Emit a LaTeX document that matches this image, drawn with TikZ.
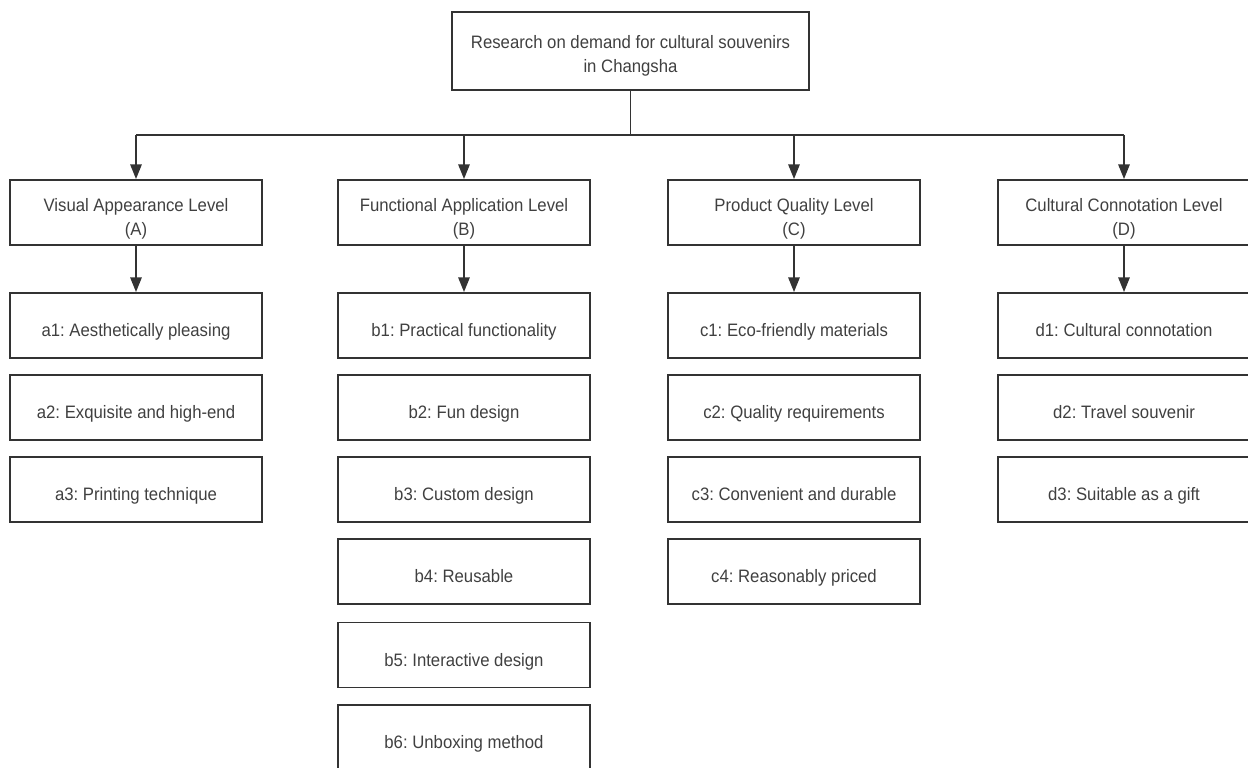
\documentclass[tikz,border=0pt]{standalone}
\usepackage{fontspec}
\setmainfont{Liberation Sans}[FakeStretch=0.93]
\frenchspacing
\usetikzlibrary{arrows.meta}
\definecolor{linegray}{HTML}{333333}
\definecolor{textgray}{HTML}{404040}
\tikzset{
  box/.style={draw=linegray, line width=1.4pt, minimum width=189pt, minimum height=48.75pt,
    inner sep=0pt, text height=17pt, text depth=0.5pt, align=center, text=textgray,
    font=\fontsize{13.5}{18}\selectfont},
  levelbox/.style={box, text height=35.5pt},
  rootbox/.style={box, text height=32.5pt, minimum width=268pt, minimum height=59pt},
  link/.style={draw=linegray, line width=1.4pt},
  arr/.style={link, -{Triangle[width=8.5pt,length=11pt]}}
}
\begin{document}
\begin{tikzpicture}[x=0.75pt, y=-0.75pt]
        \useasboundingbox (0,0) rectangle (1248,767);
        \node[rootbox] (root) at (630.5,51) {Research on demand for cultural souvenirs\\in Changsha};

        \node[levelbox] (A) at (136,212.5) {Visual Appearance Level\\(A)};
        \node[levelbox] (B) at (464,212.5) {Functional Application Level\\(B)};
        \node[levelbox] (C) at (794,212.5) {Product Quality Level\\(C)};
        \node[levelbox] (D) at (1124,212.5) {Cultural Connotation Level\\(D)};

        \node[box] (a1) at (136,325.5) {a1: Aesthetically pleasing};
        \node[box] (a2) at (136,407.5) {a2: Exquisite and high-end};
        \node[box] (a3) at (136,489.5) {a3: Printing technique};

        \node[box] (b1) at (464,325.5) {b1: Practical functionality};
        \node[box] (b2) at (464,407.5) {b2: Fun design};
        \node[box] (b3) at (464,489.5) {b3: Custom design};
        \node[box] (b4) at (464,571.5) {b4: Reusable};
        \node[box] (b5) at (464,655) {b5: Interactive design};
        \node[box] (b6) at (464,737.5) {b6: Unboxing method};

        \node[box] (c1) at (794,325.5) {c1: Eco-friendly materials};
        \node[box] (c2) at (794,407.5) {c2: Quality requirements};
        \node[box] (c3) at (794,489.5) {c3: Convenient and durable};
        \node[box] (c4) at (794,571.5) {c4: Reasonably priced};

        \node[box] (d1) at (1124,325.5) {d1: Cultural connotation};
        \node[box] (d2) at (1124,407.5) {d2: Travel souvenir};
        \node[box] (d3) at (1124,489.5) {d3: Suitable as a gift};

        % tree connectors
        \coordinate (bus) at (630.5,135);
        \draw[link] (root) -- (bus);
        \draw[link] (bus -| A) -- (bus -| D);
        \draw[arr] (bus -| A) -- (A);
        \draw[arr] (bus -| B) -- (B);
        \draw[arr] (bus -| C) -- (C);
        \draw[arr] (bus -| D) -- (D);

        \draw[arr] (A) -- (a1);
        \draw[arr] (B) -- (b1);
        \draw[arr] (C) -- (c1);
        \draw[arr] (D) -- (d1);
\end{tikzpicture}
\end{document}
